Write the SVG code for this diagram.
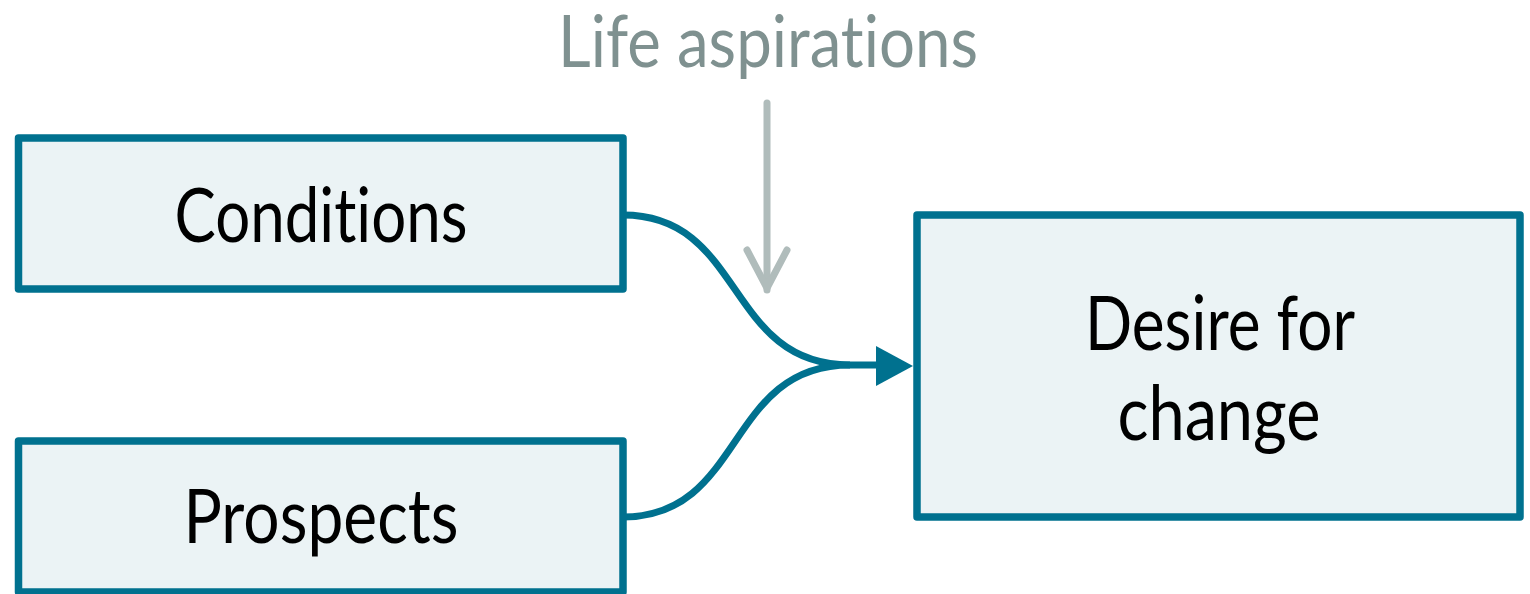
<svg xmlns="http://www.w3.org/2000/svg" width="1530" height="594" viewBox="0 0 1530 594">
<style>
.box{fill:#ebf3f5;stroke:#00718f;stroke-width:7.5;stroke-linejoin:round}
.lbl{font-family:Lato,"Open Sans",sans-serif;font-size:76px;font-weight:400;fill:#000;text-anchor:middle;font-variant-ligatures:none}
.conn{fill:none;stroke:#00718f;stroke-width:7}
.aspir{font-family:Lato,"Open Sans",sans-serif;font-size:72px;font-weight:400;fill:#7f9190;text-anchor:middle;font-variant-ligatures:none}
.garrow{fill:none;stroke:#b0bcbb;stroke-width:7;stroke-linecap:round;stroke-linejoin:round}
</style>
<rect width="1530" height="594" fill="#fff"/>
<g id="life-aspirations">
<text class="aspir" x="768" y="67" textLength="420" lengthAdjust="spacingAndGlyphs">Life aspirations</text>
</g>
<g id="conditions">
<rect class="box" x="18.5" y="138" width="604.5" height="151"/>
<text class="lbl" x="321" y="242" textLength="293" lengthAdjust="spacingAndGlyphs">Conditions</text>
</g>
<g id="prospects">
<rect class="box" x="18.5" y="441" width="604.5" height="151"/>
<text class="lbl" x="321" y="543" textLength="275" lengthAdjust="spacingAndGlyphs">Prospects</text>
</g>
<g id="desire">
<rect class="box" x="917" y="215" width="603" height="302"/>
<text class="lbl" x="1220" y="350" textLength="270" lengthAdjust="spacingAndGlyphs">Desire for</text>
<text class="lbl" x="1219" y="440" textLength="203" lengthAdjust="spacingAndGlyphs">change</text>
</g>
<g id="connectors">
<path class="conn" d="M623,215 C745,215 725,365 850,365 L880,365"/>
<path class="conn" d="M623,517 C745,517 725,365 850,365"/>
<path d="M876,346 L913,366 L876,386 Z" fill="#00718f"/>
<path class="garrow" d="M767,103 L767,290"/>
<path class="garrow" d="M747,250 L767,288 L787,250"/>
</g>
</svg>
